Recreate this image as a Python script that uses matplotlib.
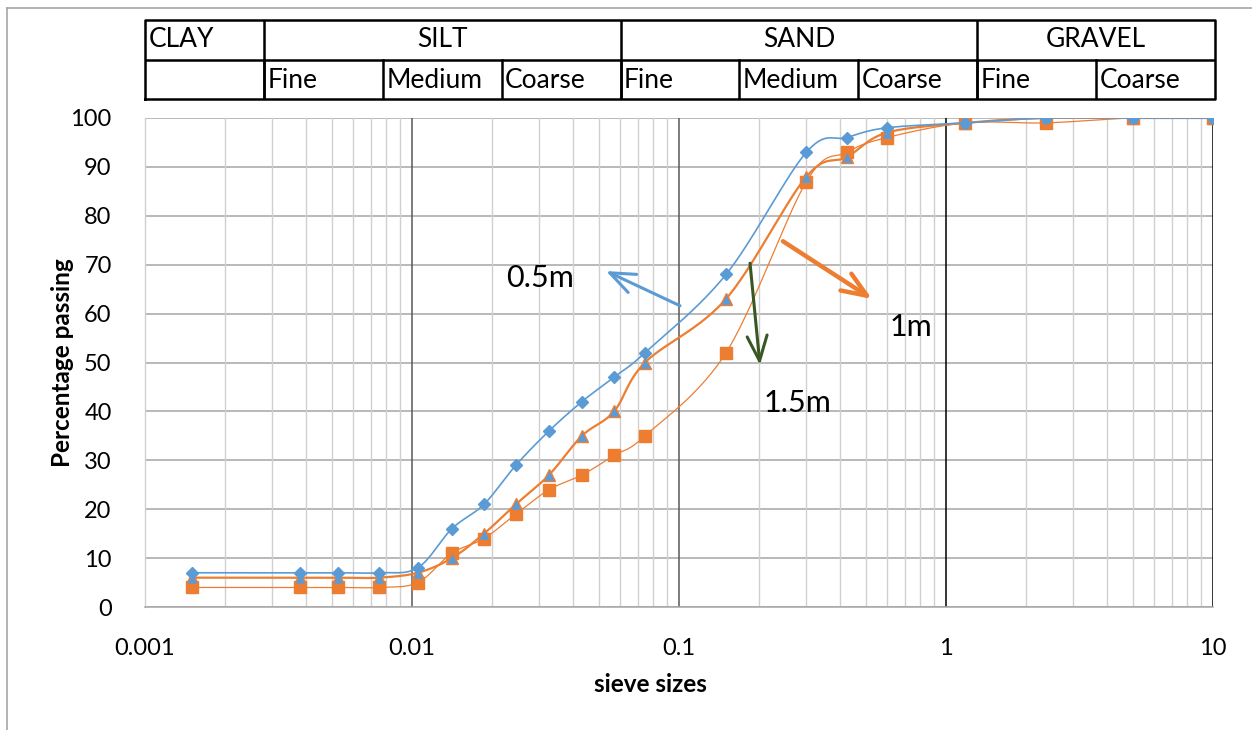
import numpy as np
import matplotlib
matplotlib.use('Agg')
import matplotlib.pyplot as plt
from matplotlib.lines import Line2D
from matplotlib.ticker import NullLocator

plt.rcParams['font.family'] = ['Lato', 'DejaVu Sans']

# sieve / hydrometer sizes (mm) and percentage passing at each depth
sizes = [0.0015, 0.0038, 0.0053, 0.0075, 0.0105, 0.0141, 0.0186, 0.0245, 0.0326,
         0.0433, 0.0571, 0.0746, 0.15, 0.3, 0.425, 0.6, 1.18, 2.36, 5, 10]
pass_05m = [7, 7, 7, 7, 8, 16, 21, 29, 36, 42, 47, 52, 68, 93, 96, 98, 99, 100, 100, 100]
pass_1m = [6, 6, 6, 6, 7, 10, 15, 21, 27, 35, 40, 50, 63, 88, 92, 97, 99, 100, 100, 100]
pass_15m = [4, 4, 4, 4, 5, 11, 14, 19, 24, 27, 31, 35, 52, 87, 93, 96, 99, 99, 100, 100]

# classification table above the chart
main_classes = ['CLAY', 'SILT', 'SAND', 'GRAVEL']
main_spans = [1, 3, 3, 2]
sub_classes = ['', 'Fine', 'Medium', 'Coarse', 'Fine', 'Medium', 'Coarse', 'Fine', 'Coarse']

decades = [0.001, 0.01, 0.1, 1, 10]
decade_labels = ['0.001', '0.01', '0.1', '1', '10']
yticks = list(range(0, 101, 10))

BLUE = '#5B9BD5'
ORANGE = '#ED7D31'
GREEN = '#385723'


def smooth(xs, ys, n=30):
    # excel-like smoothed line (catmull-rom bezier) in log-x space
    pts = np.column_stack([np.log10(xs), ys]).astype(float)
    t = np.linspace(0, 1, n)[:, None]
    out = []
    for i in range(len(pts) - 1):
        p0 = pts[max(i - 1, 0)]
        p1 = pts[i]
        p2 = pts[i + 1]
        p3 = pts[min(i + 2, len(pts) - 1)]
        c1 = p1 + (p2 - p0) / 6
        c2 = p2 - (p3 - p1) / 6
        seg = ((1 - t) ** 3) * p1 + 3 * ((1 - t) ** 2) * t * c1 + 3 * (1 - t) * t ** 2 * c2 + t ** 3 * p2
        out.append(seg)
    out = np.vstack(out)
    return 10 ** out[:, 0], out[:, 1]


W, H = 1252, 730
fig = plt.figure(figsize=(W / 100, H / 100), dpi=100)

# outer chart frame (only top and left visible)
fig.add_artist(Line2D([7 / W, 7 / W], [0, 1 - 8 / H], color='#a6a6a6', lw=1.2))
fig.add_artist(Line2D([7 / W, 1], [1 - 8 / H, 1 - 8 / H], color='#a6a6a6', lw=1.2))

ax = fig.add_axes([145 / W, (H - 607) / H, 1068 / W, 489 / H])
ax.set_xscale('log')
ax.set_xlim(0.001, 10)
ax.set_ylim(0, 100)

# grid
for y in yticks:
    ax.axhline(y, color='#a6a6a6', lw=1.1, zorder=1)
for d in decades[:-1]:
    for k in range(2, 10):
        ax.axvline(d * k, color='#d0d0d0', lw=1.0, zorder=1)
for d in decades[1:]:
    c = '#595959' if d < 1 else '#000000'
    ax.axvline(d, color=c, lw=1.1, zorder=1.5)

for s in ['top', 'right']:
    ax.spines[s].set_visible(False)
ax.spines['left'].set_color('#d0d0d0')
ax.spines['bottom'].set_color('#a6a6a6')
ax.spines['left'].set_linewidth(1.0)
ax.spines['bottom'].set_linewidth(1.1)

# series
sx, sy = smooth(sizes, pass_15m)
ax.plot(sx, sy, color=ORANGE, lw=0.9, zorder=3)
ax.plot(sizes, pass_15m, ls='none', marker='s', ms=8, color=ORANGE, zorder=3)

sx, sy = smooth(sizes, pass_1m)
ax.plot(sx, sy, color=ORANGE, lw=1.6, zorder=4)
ax.plot(sizes, pass_1m, ls='none', marker='^', ms=8, mfc=BLUE, mec=ORANGE, mew=1.0, zorder=4)

sx, sy = smooth(sizes, pass_05m)
ax.plot(sx, sy, color=BLUE, lw=1.2, zorder=5)
ax.plot(sizes, pass_05m, ls='none', marker='D', ms=6, color=BLUE, zorder=5)

# ticks
ax.set_yticks(yticks)
ax.set_xticks(decades, decade_labels)
ax.xaxis.set_minor_locator(NullLocator())

ax.set_xlabel('sieve sizes', fontsize=17.5, fontweight='bold', va='center')
ax.set_ylabel('Percentage passing', fontsize=17.5, fontweight='bold', va='center')
ax.xaxis.set_label_coords((650 - 145) / 1068, -(685 - 607) / 489)
ax.yaxis.set_label_coords(-(145 - 63) / 1068, 0.5)

# depth labels with arrows
arrow = dict(arrowstyle='->,head_length=0.75,head_width=0.3', shrinkA=0, shrinkB=0,
             mutation_scale=24)
ax.annotate('', xy=(0.0533, 68.7), xytext=(0.1009, 61.6),
            arrowprops=dict(arrow, color=BLUE, lw=2.2), zorder=6)
ax.text(0.0302, 67.3, '0.5m', fontsize=22, ha='center', va='center', zorder=6)

ax.annotate('', xy=(0.528, 63.0), xytext=(0.245, 74.8),
            arrowprops=dict(arrow, color=ORANGE, lw=3.2), zorder=6)
ax.text(0.74, 57.3, '1m', fontsize=22, ha='center', va='center', zorder=6)

ax.annotate('', xy=(0.201, 49.5), xytext=(0.1845, 70.3),
            arrowprops=dict(arrow, color=GREEN, lw=2.2), zorder=6)
ax.text(0.277, 41.7, '1.5m', fontsize=22, ha='center', va='center', zorder=6)

# classification table
tab = fig.add_axes([145 / W, (H - 99) / H, 1070 / W, 79 / H])
tab.set_xlim(0, 9)
tab.set_ylim(0, 2)
tab.axis('off')
lw = 1.8
tab.plot([0, 9, 9, 0, 0], [0, 0, 2, 2, 0], color='black', lw=lw, clip_on=False)
tab.plot([0, 9], [1, 1], color='black', lw=lw)
start = 0
for name, span in zip(main_classes, main_spans):
    if start > 0:
        tab.plot([start, start], [0, 2], color='black', lw=lw)
    if name == 'CLAY':
        tab.text(start + 0.03, 1.5, name, fontsize=19, ha='left', va='center')
    else:
        tab.text(start + span / 2, 1.5, name, fontsize=19, ha='center', va='center')
    start += span
for i, name in enumerate(sub_classes):
    if i > 0:
        tab.plot([i, i], [0, 1], color='black', lw=lw)
    tab.text(i + 0.03, 0.47, name, fontsize=19, ha='left', va='center')

ax.tick_params(axis='both', which='both', length=0, labelsize=17, colors='black')
ax.tick_params(axis='y', which='both', pad=24)
ax.tick_params(axis='x', which='both', pad=22)

fig.savefig('out.png', dpi=100)
